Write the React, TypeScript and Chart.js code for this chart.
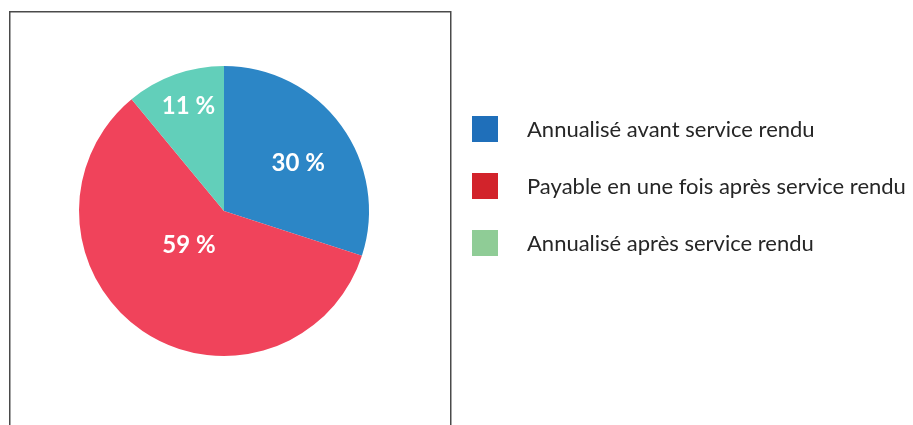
import React, { useEffect, useRef } from "react";
import { Chart, registerables } from "chart.js";

Chart.register(...registerables);

const categories = [
  "Annualisé avant service rendu",
  "Payable en une fois après service rendu",
  "Annualisé après service rendu",
];
const values = [30, 59, 11];
const valueLabels = ["30 %", "59 %", "11 %"];
const sliceColors = ["#2C86C6", "#F0435B", "#62CFBA"];
const legendColors = ["#1F6FBA", "#D2232B", "#8FCC96"];
// label placement (fraction of radius, angle shift in degrees) — style only
const labelRadius = [0.61, 0.34, 0.76];
const labelAngleShift = [3, 11, 1];

const FONT = "Lato, 'Open Sans', sans-serif";

const framePlugin = {
  id: "frame",
  beforeDraw(chart: any) {
    const ctx = chart.ctx;
    ctx.save();
    ctx.strokeStyle = "#4a4a4a";
    ctx.lineWidth = 1.5;
    ctx.strokeRect(9.75, 11.75, 441, 430);
    ctx.restore();
  },
};

const labelsPlugin = {
  id: "sliceLabels",
  afterDatasetsDraw(chart: any) {
    const ctx = chart.ctx;
    const meta = chart.getDatasetMeta(0);
    ctx.save();
    ctx.fillStyle = "#ffffff";
    ctx.font = `bold 24px ${FONT}`;
    ctx.textAlign = "center";
    ctx.textBaseline = "middle";
    meta.data.forEach((arc: any, i: number) => {
      const p = arc.getProps(["x", "y", "startAngle", "endAngle", "outerRadius"], true);
      const mid = (p.startAngle + p.endAngle) / 2 + (labelAngleShift[i] * Math.PI) / 180;
      const r = p.outerRadius * labelRadius[i];
      ctx.fillText(valueLabels[i], p.x + Math.cos(mid) * r, p.y + Math.sin(mid) * r);
    });
    ctx.restore();
  },
};

const legendPlugin = {
  id: "sideLegend",
  afterDraw(chart: any) {
    const ctx = chart.ctx;
    ctx.save();
    ctx.font = `22px ${FONT}`;
    ctx.textBaseline = "middle";
    ctx.textAlign = "left";
    categories.forEach((c, i) => {
      const y = 129 + i * 57;
      ctx.fillStyle = legendColors[i];
      ctx.fillRect(472, y - 13, 26, 26);
      ctx.fillStyle = "#262626";
      ctx.fillText(c, 527, y + 1);
    });
    ctx.restore();
  },
};

export default function App() {
  const ref = useRef<HTMLCanvasElement | null>(null);
  useEffect(() => {
    document.body.style.margin = "0";
    const chart = new Chart(ref.current as HTMLCanvasElement, {
      type: "pie",
      data: {
        labels: categories,
        datasets: [
          {
            data: values,
            backgroundColor: sliceColors,
            borderWidth: 0,
          },
        ],
      },
      options: {
        responsive: false,
        animation: false,
        layout: { padding: { left: 79, right: 544, top: 66, bottom: 69 } },
        plugins: {
          legend: { display: false },
          tooltip: { enabled: false },
        },
      },
      plugins: [framePlugin, labelsPlugin, legendPlugin],
    });
    return () => chart.destroy();
  }, []);
  return (
    <div style={{ width: 913, height: 425, background: "#fff" }}>
      <canvas ref={ref} width={913} height={425} />
    </div>
  );
}
